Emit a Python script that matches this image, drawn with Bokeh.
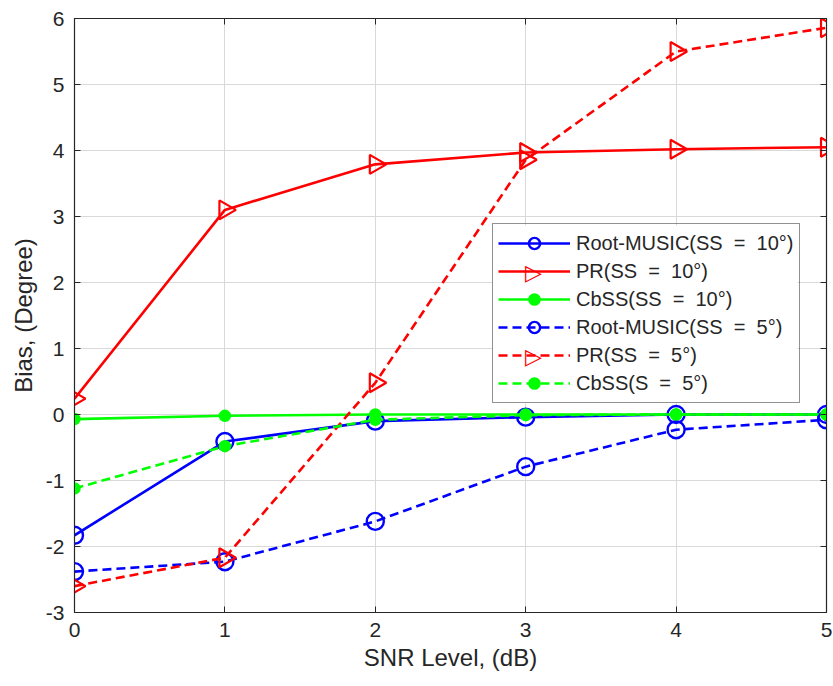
import math
from bokeh.plotting import figure
from bokeh.models import Legend, LegendItem, LinearAxis, Range1d, FixedTicker, Label, BoxAnnotation
from bokeh.embed import file_html
from bokeh.resources import INLINE

snr = [0, 1, 2, 3, 4, 5]
rm_10 = [-1.83, -0.41, -0.10, -0.04, 0.0, 0.0]
pr_10 = [0.24, 3.10, 3.79, 3.97, 4.02, 4.05]
cb_10 = [-0.07, -0.02, 0.0, 0.0, 0.0, 0.0]
rm_5 = [-2.38, -2.23, -1.62, -0.79, -0.23, -0.08]
pr_5 = [-2.60, -2.17, 0.48, 3.86, 5.50, 5.86]
cb_5 = [-1.12, -0.48, -0.08, -0.01, 0.0, 0.0]
labels = ["Root-MUSIC(SS  =  10°)", "PR(SS  =  10°)", "CbSS(SS  =  10°)",
          "Root-MUSIC(SS  =  5°)", "PR(SS  =  5°)", "CbSS(S  =  5°)"]
x_ticks = [0, 1, 2, 3, 4, 5]
y_ticks = [-3, -2, -1, 0, 1, 2, 3, 4, 5, 6]

FONT = "Liberation Sans"
TXT = "#262626"
W, H = 833, 686
BL, BR, BT, BB = 74, 7, 18, 74

p = figure(width=W, height=H, output_backend="svg", toolbar_location=None,
           x_range=Range1d(0, 5), y_range=Range1d(-3, 6),
           min_border_left=BL, min_border_right=BR, min_border_top=BT, min_border_bottom=BB)
p.outline_line_color = "#262626"
p.outline_line_width = 1.2

for ax in (p.xaxis[0], p.yaxis[0]):
    ax.major_tick_in = 6
    ax.major_tick_out = 0
    ax.minor_tick_line_color = None
    ax.axis_line_color = "#262626"
    ax.major_tick_line_color = "#262626"
    ax.major_label_text_font = FONT
    ax.major_label_text_font_size = "21px"
    ax.major_label_text_color = TXT
    ax.axis_label_text_font = FONT
    ax.axis_label_text_font_size = "24px"
    ax.axis_label_text_font_style = "normal"
    ax.axis_label_text_color = TXT
p.xaxis.ticker = FixedTicker(ticks=x_ticks)
p.yaxis.ticker = FixedTicker(ticks=y_ticks)
p.yaxis.major_label_overrides = {t: str(t) for t in y_ticks}
p.xaxis.axis_label = "SNR Level, (dB)"
p.yaxis.axis_label = "Bias, (Degree)"
p.xaxis.major_label_standoff = 10
p.yaxis.major_label_standoff = 10
p.xaxis.axis_label_standoff = 4
p.yaxis.axis_label_standoff = 6

for loc, tk in (("above", x_ticks), ("right", y_ticks)):
    a = LinearAxis(ticker=FixedTicker(ticks=tk), major_label_text_font_size="0px",
                   major_tick_in=6, major_tick_out=0, minor_tick_line_color=None,
                   axis_line_color="#262626", major_tick_line_color="#262626")
    p.add_layout(a, loc)

p.grid.grid_line_color = "#d9d9d9"
p.grid.grid_line_width = 1
p.xgrid.ticker = FixedTicker(ticks=x_ticks)
p.ygrid.ticker = FixedTicker(ticks=y_ticks)

BLUE, RED, GREEN = "#0000ff", "#ff0000", "#00ff00"
series = [
    (rm_10, BLUE, "solid", "circle"),
    (pr_10, RED, "solid", "triangle"),
    (cb_10, GREEN, "solid", "dot"),
    (rm_5, BLUE, "dashed", "circle"),
    (pr_5, RED, "dashed", "triangle"),
    (cb_5, GREEN, "dashed", "dot"),
]

# legend geometry (screen pixels relative to plot frame bottom-left)
LEG_X, LEG_Y, PAD, ROW, GW, LEG_W = 418, 209, 5, 28, 72, 305
leg_top = LEG_Y + 2 * PAD + ROW * len(labels)

items = []
tri_pos = []
for i, ((ys, col, dash, mk), lab) in enumerate(zip(series, labels)):
    ld = "solid" if dash == "solid" else "9 5"
    ln = p.line(snr, ys, line_color=col, line_width=2.6, line_dash=ld)
    if mk == "circle":
        sc = p.scatter(snr, ys, marker="circle", size=17, fill_color=None,
                       line_color=col, line_width=2.4)
        rs = [ln, sc]
    elif mk == "triangle":
        sc = p.scatter(snr, ys, marker="triangle", size=19, angle=-math.pi / 2,
                       fill_color=None, line_color=col, line_width=2.2)
        rs = [ln]
        tri_pos.append((LEG_X + PAD + GW / 2, leg_top - PAD - ROW * (i + 0.5)))
    else:
        sc = p.scatter(snr, ys, marker="circle", size=11, fill_color=col,
                       line_color=col, line_width=1.5)
        rs = [ln, sc]
    items.append(LegendItem(label=lab, renderers=rs))

# white legend background drawn beneath the (transparent) legend
p.add_layout(BoxAnnotation(left=LEG_X, right=LEG_X + LEG_W, bottom=LEG_Y, top=leg_top,
                           left_units="screen", right_units="screen",
                           bottom_units="screen", top_units="screen",
                           fill_color="white", fill_alpha=1.0, line_color=None))

# right-pointing triangle markers for the legend (bokeh's legend ignores marker angle)
for tx, ty in tri_pos:
    p.add_layout(Label(x=tx, y=ty, x_units="screen", y_units="screen", text="▷",
                       text_font="DejaVu Sans", text_font_size="22px", text_font_style="bold",
                       text_color=RED, text_align="center", text_baseline="middle"))

legend = Legend(items=items, location=(LEG_X, LEG_Y), orientation="vertical",
                label_text_font=FONT, label_text_font_size="20px", label_text_color=TXT,
                glyph_width=GW, glyph_height=ROW, label_standoff=6, spacing=0,
                padding=PAD, margin=0, border_line_color="#262626", border_line_width=1.2,
                background_fill_alpha=0.0, label_height=ROW)
p.add_layout(legend, "center")

open("out.html", "w").write(file_html(p, INLINE))
